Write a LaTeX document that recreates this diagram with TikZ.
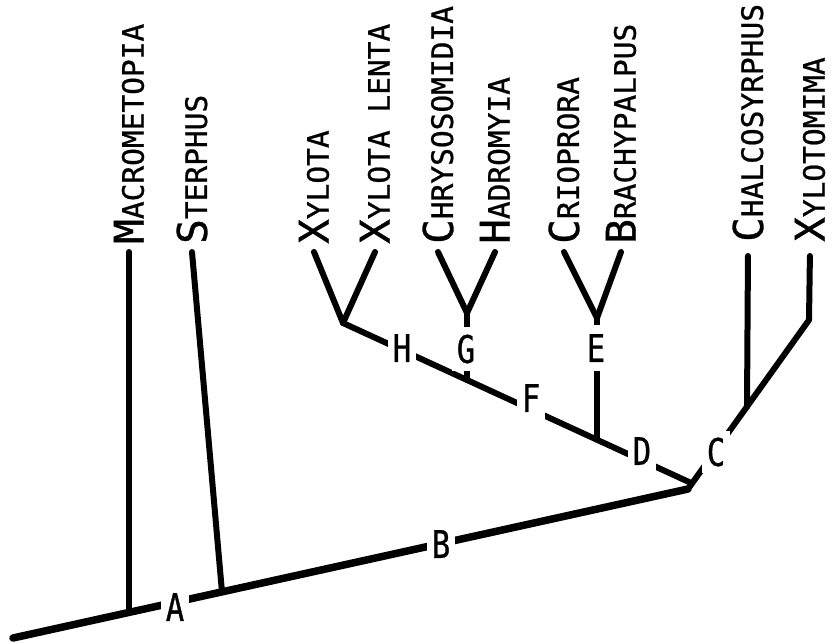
\documentclass[tikz,border=0pt]{standalone}
\usepackage{fontspec}
\newfontfamily\taxonfont{DejaVu Sans Mono}[FakeBold=0.8]
\newfontfamily\cladefont{DejaVu Sans Mono}[FakeStretch=0.8,FakeBold=0.8]
\newcommand{\taxonname}[2]{{\fontsize{41}{41}\selectfont #1}{\fontsize{29.5}{29.5}\selectfont #2}}

\begin{document}
\begin{tikzpicture}[x=1pt,y=-1pt,
  trunk/.style={line width=7.5pt,line cap=round,line join=round},
  branch/.style={line width=6pt,line cap=round,line join=round},
  taxon/.style={rotate=90,anchor=west,inner xsep=8pt,inner ysep=2pt,font=\taxonfont},
  clade/.style={fill=white,inner xsep=5pt,inner ysep=7pt,font={\cladefont\fontsize{38}{38}\selectfont}}]
\useasboundingbox (0,0) rectangle (833,643);
\coordinate (root) at (13,638);
\coordinate (jB) at (688,489);
\coordinate (jMac) at (129,612);
\coordinate (jSte) at (222,592);
\coordinate (bendXt) at (809,320);
\coordinate (jCha) at (747,407);
\coordinate (jD) at (692,483.4);
\coordinate (jXy) at (343,323);
\coordinate (jG) at (467,380);
\coordinate (jE) at (597,439.7);
\coordinate (topG) at (467,313);
\coordinate (topE) at (597,318);
\node[taxon] (macro) at (129,252) {\taxonname{M}{ACROMETOPIA}};
\node[taxon] (sterph) at (192,252) {\taxonname{S}{TERPHUS}};
\node[taxon] (xyl) at (314,252) {\taxonname{X}{YLOTA}};
\node[taxon] (xylent) at (375,252) {\taxonname{X}{YLOTA LENTA}};
\node[taxon] (chryso) at (438,252) {\taxonname{C}{HRYSOSOMIDIA}};
\node[taxon] (hadro) at (495,252) {\taxonname{H}{ADROMYIA}};
\node[taxon] (crio) at (564,252) {\taxonname{C}{RIOPRORA}};
\node[taxon] (brachy) at (621,252) {\taxonname{B}{RACHYPALPUS}};
\node[taxon] (chalco) at (748,250) {\taxonname{C}{HALCOSYRPHUS}};
\node[taxon] (xtomima) at (810,250) {\taxonname{X}{YLOTOMIMA}};
\draw[trunk] (root) -- (jB);
\draw[branch] (jMac) -- (macro.west);
\draw[branch] (jSte) -- (sterph.west);
\draw[branch,shorten >=6pt] (jB) -- (bendXt) -- (xtomima.west);
\draw[branch,shorten >=6pt] (jCha) -- (chalco.west);
\draw[branch] (jD) -- (jXy);
\draw[branch] (jXy) -- (xyl.west);
\draw[branch] (jXy) -- (xylent.west);
\draw[branch] (jG) -- (topG);
\draw[branch] (topG) -- (chryso.west);
\draw[branch] (topG) -- (hadro.west);
\draw[branch] (jE) -- (topE);
\draw[branch] (topE) -- (crio.west);
\draw[branch] (topE) -- (brachy.west);
\node[clade] (A) at (175,607) {A};
\node[clade] (B) at (441,544) {B};
\node[clade] (C) at (716,452) {C};
\node[clade] (D) at (642,451) {D};
\node[clade,inner ysep=9pt] (E) at (596,348) {E};
\node[clade] (F) at (531,398) {F};
\node[clade,inner ysep=8pt] (G) at (466,349) {G};
\node[clade] (H) at (402,348) {H};
\end{tikzpicture}
\end{document}
